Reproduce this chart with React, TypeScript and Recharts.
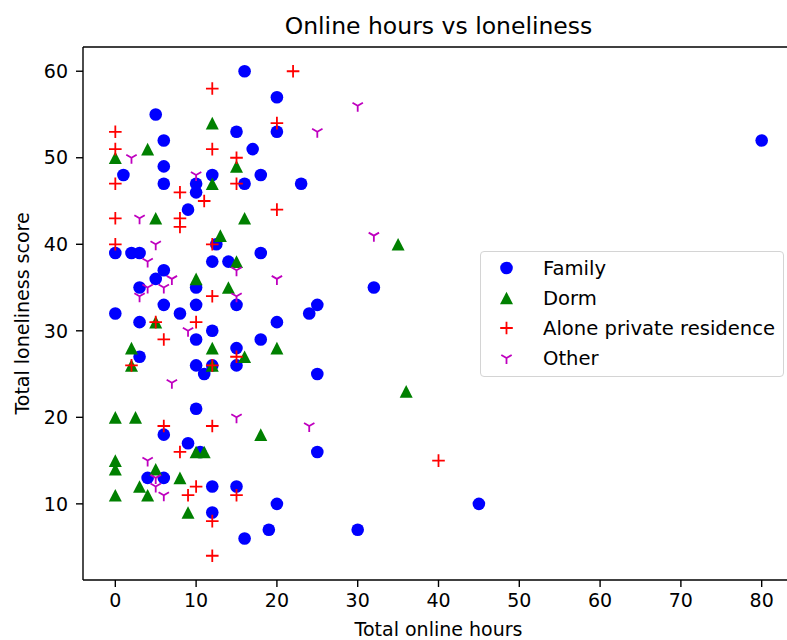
import {
  ScatterChart,
  Scatter,
  XAxis,
  YAxis,
  Legend,
  ReferenceLine,
} from "recharts";

const familyHours = [16, 5, 15, 6, 17, 6, 1, 12, 18, 6, 16, 10, 10, 9, 12.5, 0, 2, 3, 18, 12, 14, 6, 5, 10, 3, 15, 6, 10, 8, 0, 3, 18, 12, 10, 15, 3, 10, 12, 11, 15, 10, 6, 9, 10.5, 4, 6, 12, 15, 12, 16, 20, 20, 23, 32, 25, 24, 20, 25, 25, 20, 45, 19, 30, 80];
const familyScores = [60, 55, 53, 52, 51, 49, 48, 48, 48, 47, 47, 47, 46, 44, 40, 39, 39, 39, 39, 38, 38, 37, 36, 35, 35, 33, 33, 33, 32, 32, 31, 29, 30, 29, 28, 27, 26, 26, 25, 26, 21, 18, 17, 16, 13, 13, 12, 12, 9, 6, 57, 53, 47, 35, 33, 32, 31, 25, 16, 10, 10, 7, 7, 52];

const dormHours = [12, 4, 0, 15, 12, 5, 16, 13, 15, 10, 14, 5, 2, 12, 16, 2, 12, 0, 2.5, 18, 10, 11, 0, 0, 5, 8, 3, 0, 4, 9, 35, 20, 36];
const dormScores = [54, 51, 50, 49, 47, 43, 43, 41, 38, 36, 35, 31, 28, 28, 27, 26, 26, 20, 20, 18, 16, 16, 15, 14, 14, 13, 12, 11, 11, 9, 40, 28, 23];

const aloneHours = [12, 0, 0, 15, 0, 15, 8, 11, 0, 8, 8, 0, 12, 12, 5, 10, 6, 15, 2, 12, 6, 12, 8, 10, 9, 15, 12, 12, 22, 20, 12, 20, 40];
const aloneScores = [58, 53, 51, 50, 47, 47, 46, 45, 43, 43, 42, 40, 40, 34, 31, 31, 29, 27, 26, 26, 19, 19, 16, 12, 11, 11, 8, 4, 60, 54, 51, 44, 15];

const otherHours = [2, 10, 3, 5, 4, 15, 7, 4, 6, 3, 15, 9, 7, 15, 4, 5, 5, 6, 30, 25, 32, 20, 24];
const otherScores = [50, 48, 43, 40, 38, 37, 36, 35, 35, 34, 34, 30, 24, 20, 15, 13, 12, 11, 56, 53, 41, 36, 19];

const xTicks = [0, 10, 20, 30, 40, 50, 60, 70, 80];
const yTicks = [10, 20, 30, 40, 50, 60];

const FONT = "'DejaVu Sans', sans-serif";

const toPoints = (xs: number[], ys: number[]) => xs.map((x, i) => ({ x, y: ys[i] }));

// marker shapes, roughly matplotlib 'o', '^', '+', '1'
const dot = (cx: number, cy: number) => <circle cx={cx} cy={cy} r={6.3} fill="#0000ff" />;
const tri = (cx: number, cy: number) => (
  <polygon
    points={`${cx},${cy - 6.3} ${cx - 6.5},${cy + 6.3} ${cx + 6.5},${cy + 6.3}`}
    fill="#008000"
  />
);
const plus = (cx: number, cy: number) => (
  <path
    d={`M${cx - 6.3},${cy}H${cx + 6.3}M${cx},${cy - 6.3}V${cy + 6.3}`}
    stroke="#ff0000"
    strokeWidth={1.8}
    fill="none"
  />
);
const triDown = (cx: number, cy: number) => (
  <path
    d={`M${cx},${cy}V${cy + 6}M${cx},${cy}L${cx - 5.2},${cy - 3}M${cx},${cy}L${cx + 5.2},${cy - 3}`}
    stroke="#bf00bf"
    strokeWidth={1.8}
    fill="none"
  />
);

const series = [
  { name: "Family", data: toPoints(familyHours, familyScores), mark: dot },
  { name: "Dorm", data: toPoints(dormHours, dormScores), mark: tri },
  { name: "Alone private residence", data: toPoints(aloneHours, aloneScores), mark: plus },
  { name: "Other", data: toPoints(otherHours, otherScores), mark: triDown },
];

function LegendBox() {
  return (
    <div
      style={{
        width: 304,
        height: 126,
        boxSizing: "border-box",
        border: "1.5px solid #d4d4d4",
        borderRadius: 4,
        background: "rgba(255,255,255,0.8)",
        paddingTop: 1,
        fontFamily: FONT,
        fontSize: 19.6,
        color: "#000",
      }}
    >
      {series.map((s) => (
        <div key={s.name} style={{ display: "flex", alignItems: "center", height: 30 }}>
          <svg width={62} height={30} style={{ flex: "none" }}>
            {s.mark(25.5, 15)}
          </svg>
          <span style={{ whiteSpace: "nowrap" }}>{s.name}</span>
        </div>
      ))}
    </div>
  );
}

export default function App() {
  return (
    <div
      style={{
        position: "absolute",
        left: 0,
        top: 0,
        width: 787,
        height: 640,
        overflow: "hidden",
        background: "#fff",
      }}
    >
      <div
        style={{
          position: "absolute",
          left: 83,
          width: 711,
          top: 11,
          lineHeight: "30px",
          textAlign: "center",
          fontFamily: FONT,
          fontSize: 23.5,
          color: "#000",
          zIndex: 2,
        }}
      >
        Online hours vs loneliness
      </div>
      <ScatterChart width={800} height={640} margin={{ top: 47, right: 6, bottom: 0, left: 0 }}>
        <XAxis
          type="number"
          dataKey="x"
          domain={[-4, 84]}
          ticks={xTicks}
          height={60}
          tickSize={7}
          tickMargin={7}
          axisLine={{ stroke: "#000", strokeWidth: 1.4 }}
          tickLine={{ stroke: "#000", strokeWidth: 1.4 }}
          tick={{ fill: "#000", fontSize: 19, fontFamily: FONT }}
          allowDataOverflow
          label={{
            content: ({ viewBox }: any) => (
              <text
                x={viewBox.x + viewBox.width / 2}
                y={636}
                textAnchor="middle"
                fontSize={19}
                fontFamily={FONT}
                fill="#000"
              >
                Total online hours
              </text>
            ),
          }}
        />
        <YAxis
          type="number"
          dataKey="y"
          domain={[1.2, 62.8]}
          ticks={yTicks}
          width={83}
          tickSize={7}
          tickMargin={8}
          axisLine={{ stroke: "#000", strokeWidth: 1.4 }}
          tickLine={{ stroke: "#000", strokeWidth: 1.4 }}
          tick={{ fill: "#000", fontSize: 19, fontFamily: FONT }}
          allowDataOverflow
          label={{
            content: ({ viewBox }: any) => {
              const cy = viewBox.y + viewBox.height / 2;
              return (
                <text
                  x={22}
                  y={cy}
                  transform={`rotate(-90 22 ${cy})`}
                  textAnchor="middle"
                  dominantBaseline="central"
                  fontSize={19}
                  fontFamily={FONT}
                  fill="#000"
                >
                  Total loneliness score
                </text>
              );
            },
          }}
        />
        <ReferenceLine y={62.8} stroke="#000" strokeWidth={1.4} />
        <ReferenceLine x={84} stroke="#000" strokeWidth={1.4} />
        {series.map((s) => (
          <Scatter
            key={s.name}
            name={s.name}
            data={s.data}
            isAnimationActive={false}
            shape={(p: any) => s.mark(p.cx, p.cy)}
          />
        ))}
        <Legend
          layout="vertical"
          align="center"
          verticalAlign="middle"
          content={() => <LegendBox />}
          wrapperStyle={{ left: 480, top: 251, width: 304, height: 126 }}
        />
      </ScatterChart>
    </div>
  );
}
